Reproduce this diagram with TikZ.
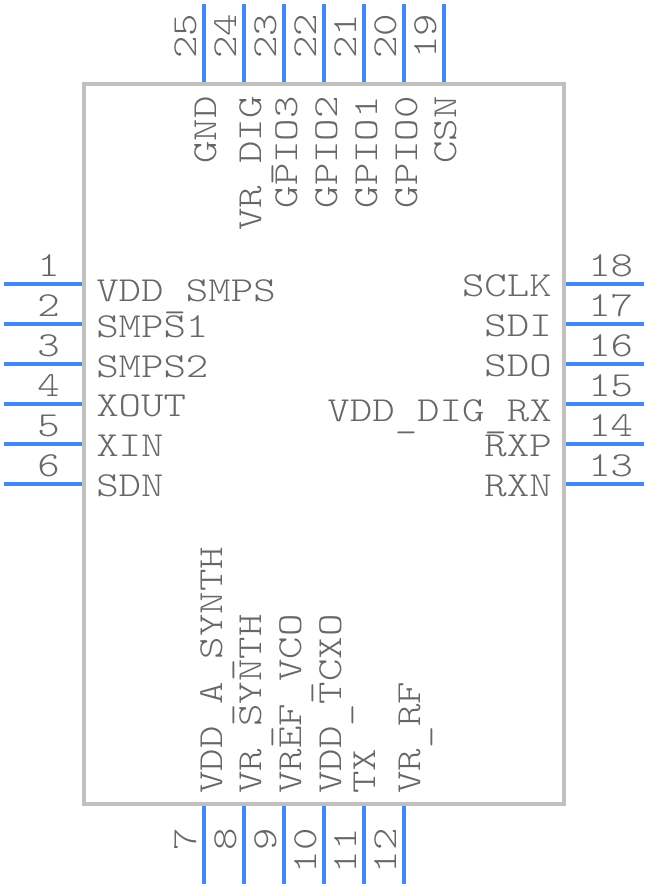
\documentclass[tikz,border=0pt]{standalone}
\usepackage{fontspec}
\newfontface\pinfont{lmmonolt10-regular.otf}[FakeStretch=1.215]
\newcommand{\lowbar}{\smash{\raisebox{-4.3pt}{\_}}}
\definecolor{pinblue}{HTML}{4488F5}
\definecolor{bodygrey}{HTML}{C0C0C0}
\definecolor{textgrey}{HTML}{676767}
\tikzset{
    pinline/.style={pinblue, line width=3pt},
    pintext/.style={textgrey, inner sep=0pt, font=\pinfont\fontsize{25}{25}\selectfont},
    lefttext/.style={pintext, anchor=base west},
    righttext/.style={pintext, anchor=base east},
    uptext/.style={pintext, rotate=90, anchor=base west},
    downtext/.style={pintext, rotate=90, anchor=base east},
}
\begin{document}
\begin{tikzpicture}[x=0.025cm, y=-0.025cm]
    \def\lp{4}
    \def\rp{644}
    \useasboundingbox (0,0) rectangle (648,888);

    % body
    \draw[bodygrey, line width=3pt] (84,84) rectangle (564,804);

    % left pins
    \draw[pinline] (\lp,284) -- (82,284);
    \draw[pinline] (\lp,324) -- (82,324);
    \draw[pinline] (\lp,364) -- (82,364);
    \draw[pinline] (\lp,404) -- (82,404);
    \draw[pinline] (\lp,444) -- (82,444);
    \draw[pinline] (\lp,484) -- (82,484);
    \node[righttext] (n1) at (60,276) {1};
    \node[righttext] (n2) at (60,316) {2};
    \node[righttext] (n3) at (60,356) {3};
    \node[righttext] (n4) at (60,396) {4};
    \node[righttext] (n5) at (60,436) {5};
    \node[righttext] (n6) at (60,476) {6};
    \node[lefttext] (vddsmps) at (96,301) {VDD\lowbar SMPS};
    \node[lefttext] (smpsone) at (96,337) {SMPS1};
    \node[lefttext] (smpstwo) at (96,377) {SMPS2};
    \node[lefttext] (xout) at (96,416) {XOUT};
    \node[lefttext] (xin) at (96,456) {XIN};
    \node[lefttext] (sdn) at (96,496) {SDN};

    % right pins
    \draw[pinline] (566,284) -- (\rp,284);
    \draw[pinline] (566,324) -- (\rp,324);
    \draw[pinline] (566,364) -- (\rp,364);
    \draw[pinline] (566,404) -- (\rp,404);
    \draw[pinline] (566,444) -- (\rp,444);
    \draw[pinline] (566,484) -- (\rp,484);
    \node[lefttext] (n18) at (588,276) {18};
    \node[lefttext] (n17) at (588,316) {17};
    \node[lefttext] (n16) at (588,356) {16};
    \node[lefttext] (n15) at (588,396) {15};
    \node[lefttext] (n14) at (588,436) {14};
    \node[lefttext] (n13) at (588,476) {13};
    \node[righttext] (sclk) at (552,296) {SCLK};
    \node[righttext] (sdi) at (552,336) {SDI};
    \node[righttext] (sdo) at (552,376) {SDO};
    \node[righttext] (vdddigrx) at (552,421) {VDD\lowbar DIG\lowbar RX};
    \node[righttext] (rxp) at (552,456) {RXP};
    \node[righttext] (rxn) at (552,496) {RXN};

    % top pins
    \draw[pinline] (204,4) -- (204,82);
    \draw[pinline] (244,4) -- (244,82);
    \draw[pinline] (284,4) -- (284,82);
    \draw[pinline] (324,4) -- (324,82);
    \draw[pinline] (364,4) -- (364,82);
    \draw[pinline] (404,4) -- (404,82);
    \draw[pinline] (444,4) -- (444,82);
    \node[uptext] (n25) at (196,59) {25};
    \node[uptext] (n24) at (236,59) {24};
    \node[uptext] (n23) at (276,59) {23};
    \node[uptext] (n22) at (316,59) {22};
    \node[uptext] (n21) at (356,59) {21};
    \node[uptext] (n20) at (396,59) {20};
    \node[uptext] (n19) at (436,59) {19};
    \node[downtext] (gnd) at (216,96) {GND};
    \node[downtext] (vrdig) at (261,96) {VR\lowbar DIG};
    \node[downtext] (gpiothree) at (297,96) {GPIO3};
    \node[downtext] (gpiotwo) at (337,96) {GPIO2};
    \node[downtext] (gpioone) at (377,96) {GPIO1};
    \node[downtext] (gpiozero) at (417,96) {GPIO0};
    \node[downtext] (csn) at (456,96) {CSN};

    % bottom pins
    \draw[pinline] (204,806) -- (204,884);
    \draw[pinline] (244,806) -- (244,884);
    \draw[pinline] (284,806) -- (284,884);
    \draw[pinline] (324,806) -- (324,884);
    \draw[pinline] (364,806) -- (364,884);
    \draw[pinline] (404,806) -- (404,884);
    \node[downtext] (n7) at (196,828) {7};
    \node[downtext] (n8) at (236,828) {8};
    \node[downtext] (n9) at (276,828) {9};
    \node[downtext] (n10) at (316,828) {10};
    \node[downtext] (n11) at (356,828) {11};
    \node[downtext] (n12) at (396,828) {12};
    \node[uptext] (vddasynth) at (222,794) {VDD\lowbar A\lowbar SYNTH};
    \node[uptext] (vrsynth) at (261,794) {VR\lowbar SYNTH};
    \node[uptext] (vrefvco) at (301,794) {VREF\lowbar VCO};
    \node[uptext] (vddtcxo) at (341,794) {VDD\lowbar TCXO};
    \node[uptext] (tx) at (375,794) {TX};
    \node[uptext] (vrrf) at (420,794) {VR\lowbar RF};
\end{tikzpicture}
\end{document}
